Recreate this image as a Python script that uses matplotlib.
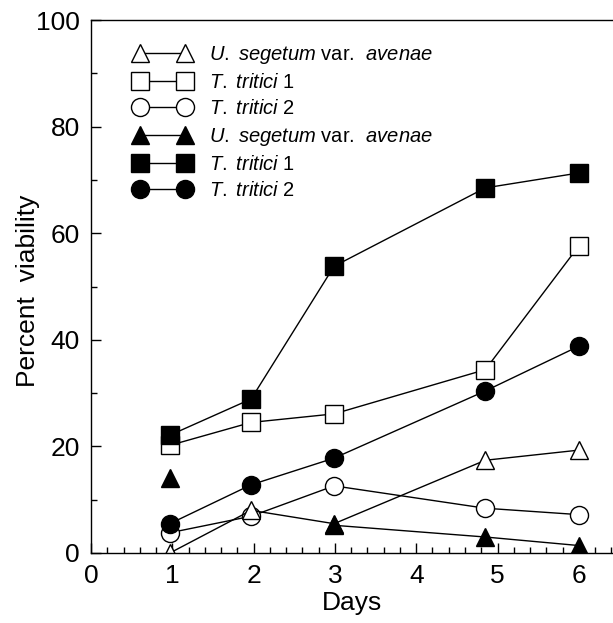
import numpy as np
import matplotlib
matplotlib.use("Agg")
import matplotlib.pyplot as plt
from matplotlib.ticker import MultipleLocator

plt.rcParams['font.family'] = 'Liberation Sans'
plt.rcParams['mathtext.fontset'] = 'custom'
plt.rcParams['mathtext.rm'] = 'Liberation Sans'
plt.rcParams['mathtext.it'] = 'Liberation Sans:italic'

# sampling days
days = [0.97, 1.97, 2.99, 4.85, 6.0]

# percent viability per isolate (open = first treatment, filled = second)
ua_open = [0.0, 8.0, 5.5, 17.4, 19.3]
tt1_open = [20.2, 24.5, 26.1, 34.4, 57.6]
tt2_open = [3.8, 6.9, 12.6, 8.4, 7.2]
ua_filled = [14.0, np.nan, 5.2, 3.0, 1.4]
tt1_filled = [22.1, 28.9, 53.8, 68.5, 71.3]
tt2_filled = [5.5, 12.8, 17.8, 30.4, 38.8]

lbl_ua = r'$\mathit{U.\ segetum}$ var.  $\mathit{avenae}$'
lbl_tt1 = r'$\mathit{T.\ tritici}$ 1'
lbl_tt2 = r'$\mathit{T.\ tritici}$ 2'

fig = plt.figure(figsize=(6.13, 6.23), dpi=100)
ax = fig.add_axes([91/613, 70/623, 1 - 91/613, 533/623])

ms = 13
kw = dict(color='black', lw=1.0, markersize=ms, markeredgecolor='black',
          markeredgewidth=1.0)

h_tt2o, = ax.plot(days, tt2_open, marker='o', markerfacecolor='white', label=lbl_tt2, **kw)
h_tt1o, = ax.plot(days, tt1_open, marker='s', markerfacecolor='white', label=lbl_tt1, **kw)
h_uao, = ax.plot(days, ua_open, marker='^', markerfacecolor='white', label=lbl_ua, **kw)
h_uaf, = ax.plot(days, ua_filled, marker='^', markerfacecolor='black', label=lbl_ua, **kw)
h_tt2f, = ax.plot(days, tt2_filled, marker='o', markerfacecolor='black', label=lbl_tt2, **kw)
h_tt1f, = ax.plot(days, tt1_filled, marker='s', markerfacecolor='black', label=lbl_tt1, **kw)

ax.set_xlim(0, 522/81.3)
ax.set_ylim(0, 100)
ax.xaxis.set_major_locator(MultipleLocator(1))
ax.xaxis.set_minor_locator(MultipleLocator(0.2))
ax.yaxis.set_major_locator(MultipleLocator(20))
ax.yaxis.set_minor_locator(MultipleLocator(10))
ax.tick_params(which='both', direction='in', labelsize=19, pad=8, width=1.0)
ax.tick_params(which='major', length=7)
ax.tick_params(which='minor', length=4.5)
ax.spines['right'].set_visible(False)
for s in ['left', 'bottom', 'top']:
    ax.spines[s].set_linewidth(1.0)

ax.set_xlabel('Days', fontsize=19, labelpad=2)
ax.set_ylabel('Percent  viability', fontsize=19)
ax.yaxis.set_label_coords(-0.098, 0.492)

handles = [h_uao, h_tt1o, h_tt2o, h_uaf, h_tt1f, h_tt2f]
ax.legend(handles=handles, labels=[h.get_label() for h in handles],
          loc='upper left', bbox_to_anchor=(134/613, 1 - 44/623),
          bbox_transform=fig.transFigure, frameon=False, fontsize=14.5,
          numpoints=2, handlelength=2.83, handletextpad=0.9,
          labelspacing=0.36, borderpad=0, borderaxespad=0, markerscale=1.0)

fig.savefig('out.png', dpi=100)
